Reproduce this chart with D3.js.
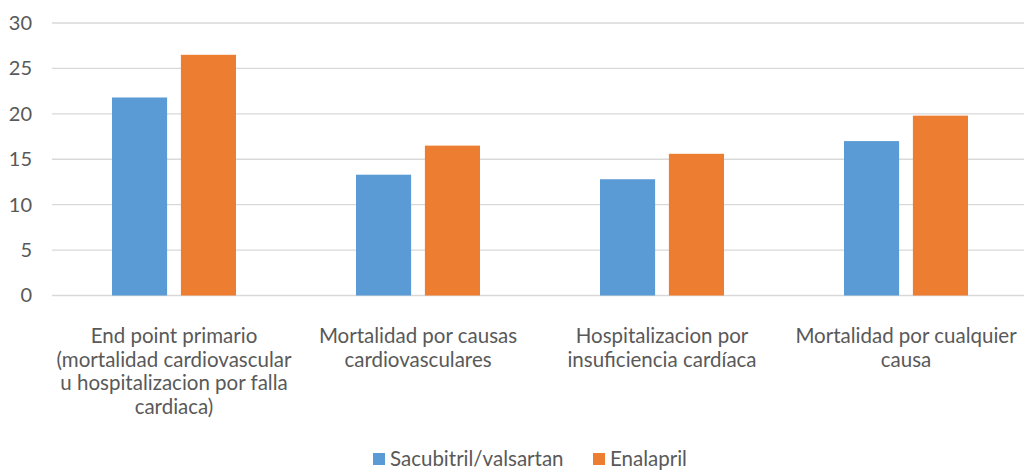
<!DOCTYPE html>
<html>
<head>
<meta charset="utf-8">
<script src="https://cdn.jsdelivr.net/npm/d3@7"></script>
<style>
  body { margin: 0; background: #fff; }
  text { font-family: Lato, "Open Sans", sans-serif; fill: #595959; }
</style>
</head>
<body>
<script>
var width = 1024, height = 470;

// data
var categories = [
  "End point primario\n(mortalidad cardiovascular\nu hospitalizacion por falla\ncardiaca)",
  "Mortalidad por causas\ncardiovasculares",
  "Hospitalizacion por\ninsuficiencia cardíaca",
  "Mortalidad por cualquier\ncausa"
];
var seriesNames = ["Sacubitril/valsartan", "Enalapril"];
var sacubitril = [21.8, 13.3, 12.8, 17.0];
var enalapril = [26.5, 16.5, 15.6, 19.8];
var yTicks = [0, 5, 10, 15, 20, 25, 30];
var colors = ["#5B9BD5", "#ED7D31"];

var rows = categories.map(function(c, i) {
  return { cat: c, values: [sacubitril[i], enalapril[i]] };
});

var svg = d3.select("body").append("svg")
    .attr("width", width)
    .attr("height", height);

var x = d3.scaleBand()
    .domain(categories)
    .range([52, 1028]);

var x1 = d3.scaleBand()
    .domain([0, 1])
    .range([60, x.bandwidth() - 60])
    .paddingInner(0.2);

var y = d3.scaleLinear()
    .domain([0, 30])
    .range([295.5, 23]);

// gridlines
svg.append("g")
    .selectAll("line")
    .data(yTicks)
  .enter().append("line")
    .attr("x1", 52)
    .attr("x2", width)
    .attr("y1", function(d) { return y(d); })
    .attr("y2", function(d) { return y(d); })
    .attr("stroke", "#D9D9D9")
    .attr("stroke-width", 1.3);

// y axis labels
var yAxis = svg.append("g")
    .attr("transform", "translate(32,0)")
    .call(d3.axisLeft(y).tickValues(yTicks).tickSize(0).tickPadding(0));
yAxis.select(".domain").remove();
yAxis.selectAll("text")
    .style("font-size", "20px")
    .attr("fill", "#595959");

// bars
var groups = svg.append("g")
    .selectAll("g")
    .data(rows)
  .enter().append("g")
    .attr("transform", function(d) { return "translate(" + x(d.cat) + ",0)"; });

groups.selectAll("rect")
    .data(function(d) { return d.values; })
  .enter().append("rect")
    .attr("x", function(d, i) { return x1(i); })
    .attr("width", x1.bandwidth())
    .attr("y", function(d) { return y(d); })
    .attr("height", function(d) { return y(0) - y(d); })
    .attr("fill", function(d, i) { return colors[i]; });

// category labels
var labels = svg.append("g")
    .selectAll("text")
    .data(categories)
  .enter().append("text")
    .attr("x", function(d) { return x(d) + x.bandwidth() / 2; })
    .attr("y", 343)
    .attr("text-anchor", "middle")
    .style("font-size", "20.5px");

labels.selectAll("tspan")
    .data(function(d) { return d.split("\n"); })
  .enter().append("tspan")
    .attr("x", function() { return this.parentNode.getAttribute("x"); })
    .attr("dy", function(d, i) { return i === 0 ? 0 : 23.5; })
    .text(function(d) { return d; });

// legend
var legendX = [373, 593];
var legend = svg.append("g")
    .selectAll("g")
    .data(seriesNames)
  .enter().append("g")
    .attr("transform", function(d, i) { return "translate(" + legendX[i] + ",453)"; });

legend.append("rect")
    .attr("width", 12)
    .attr("height", 12)
    .attr("fill", function(d, i) { return colors[i]; });

legend.append("text")
    .attr("x", 17)
    .attr("y", 12.5)
    .style("font-size", "20.5px")
    .text(function(d) { return d; });
</script>
</body>
</html>
